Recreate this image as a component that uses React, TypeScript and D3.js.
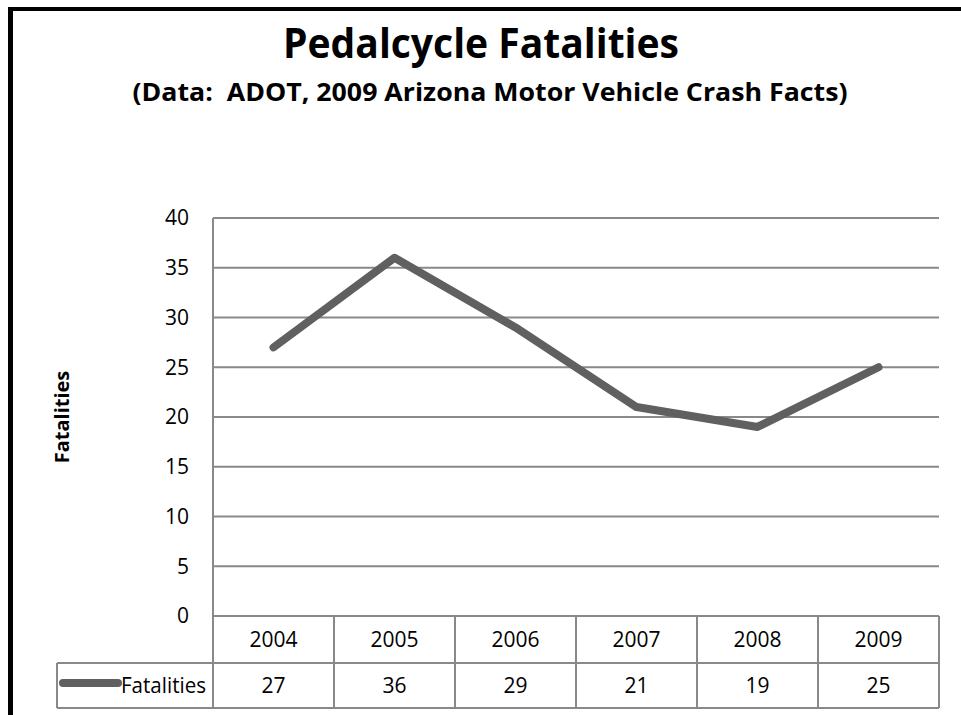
import React from "react";
import * as d3 from "d3";

const years = ["2004", "2005", "2006", "2007", "2008", "2009"];
const fatalities = [27, 36, 29, 21, 19, 25];
const yTicks = [0, 5, 10, 15, 20, 25, 30, 35, 40];
const seriesName = "Fatalities";
const title = "Pedalcycle Fatalities";
const subtitle = "(Data:  ADOT, 2009 Arizona Motor Vehicle Crash Facts)";
const yLabel = "Fatalities";

const W = 961;
const H = 715;
const plotLeft = 213;
const plotRight = 939;
const plotTop = 218;
const plotBottom = 616;
const headerBottom = 663;
const tableBottom = 708;
const legendLeft = 57;

const font = "'Open Sans', 'DejaVu Sans', sans-serif";
const gridColor = "#898989";
const lineColor = "#606060";

export default function App() {
  const x = d3.scaleBand<string>().domain(years).range([plotLeft, plotRight]);
  const y = d3.scaleLinear().domain([0, 40]).range([plotBottom, plotTop]);
  const line = d3
    .line<number>()
    .x((_, i) => (x(years[i]) as number) + x.bandwidth() / 2)
    .y((d) => y(d));
  const bounds = years.map((yr) => x(yr) as number).concat([plotRight]);

  return (
    <svg
      width={W}
      height={H}
      style={{ position: "absolute", left: 0, top: 0, background: "#fff" }}
      fontFamily={font}
    >
      <rect x={0} y={0} width={W} height={H} fill="#fff" />
      {/* frame */}
      <rect x={8} y={7} width={W - 8} height={4} fill="#000" />
      <rect x={8} y={7} width={5} height={H - 7} fill="#000" />

      <text
        x={481}
        y={58}
        textAnchor="middle"
        fontSize={41}
        fontWeight="bold"
        textLength={396}
        lengthAdjust="spacingAndGlyphs"
      >
        {title}
      </text>
      <text
        x={490}
        y={101}
        textAnchor="middle"
        fontSize={25}
        fontWeight="bold"
        textLength={715}
        lengthAdjust="spacingAndGlyphs"
        style={{ whiteSpace: "pre" }}
      >
        {subtitle}
      </text>

      {/* gridlines */}
      {yTicks.map((t) => (
        <line
          key={t}
          x1={plotLeft}
          x2={plotRight}
          y1={y(t)}
          y2={y(t)}
          stroke={gridColor}
          strokeWidth={2}
        />
      ))}
      <line x1={plotLeft} x2={plotLeft} y1={plotTop} y2={plotBottom} stroke={gridColor} strokeWidth={2} />
      {yTicks.map((t) => (
        <text
          key={"l" + t}
          x={189}
          y={y(t)}
          dy="0.35em"
          textAnchor="end"
          fontSize={21}
          fill="#000"
        >
          {t}
        </text>
      ))}

      <text
        transform={`translate(69,${(plotTop + plotBottom) / 2}) rotate(-90)`}
        textAnchor="middle"
        fontSize={20}
        fontWeight="bold"
      >
        {yLabel}
      </text>

      {/* data table */}
      {bounds.map((b, i) => (
        <line
          key={"v" + i}
          x1={b}
          x2={b}
          y1={plotBottom}
          y2={tableBottom}
          stroke={gridColor}
          strokeWidth={2}
        />
      ))}
      <line x1={legendLeft} x2={legendLeft} y1={headerBottom} y2={tableBottom} stroke={gridColor} strokeWidth={2} />
      <line x1={legendLeft} x2={plotRight} y1={headerBottom} y2={headerBottom} stroke={gridColor} strokeWidth={2} />
      <line x1={legendLeft} x2={plotRight} y1={tableBottom} y2={tableBottom} stroke={gridColor} strokeWidth={2} />
      {years.map((yr) => (
        <text
          key={"h" + yr}
          x={(x(yr) as number) + x.bandwidth() / 2}
          y={(plotBottom + headerBottom) / 2}
          dy="0.35em"
          textAnchor="middle"
          fontSize={21}
        >
          {yr}
        </text>
      ))}
      {fatalities.map((v, i) => (
        <text
          key={"d" + i}
          x={(x(years[i]) as number) + x.bandwidth() / 2}
          y={(headerBottom + tableBottom) / 2}
          dy="0.35em"
          textAnchor="middle"
          fontSize={21}
        >
          {v}
        </text>
      ))}
      <line
        x1={63}
        x2={118}
        y1={683}
        y2={683}
        stroke={lineColor}
        strokeWidth={8}
        strokeLinecap="round"
      />
      <text
        x={206}
        y={(headerBottom + tableBottom) / 2}
        dy="0.35em"
        textAnchor="end"
        fontSize={21}
        textLength={85}
        lengthAdjust="spacingAndGlyphs"
      >
        {seriesName}
      </text>

      {/* series line */}
      <path
        d={line(fatalities) || ""}
        fill="none"
        stroke={lineColor}
        strokeWidth={8}
        strokeLinecap="round"
        strokeLinejoin="round"
      />
    </svg>
  );
}
